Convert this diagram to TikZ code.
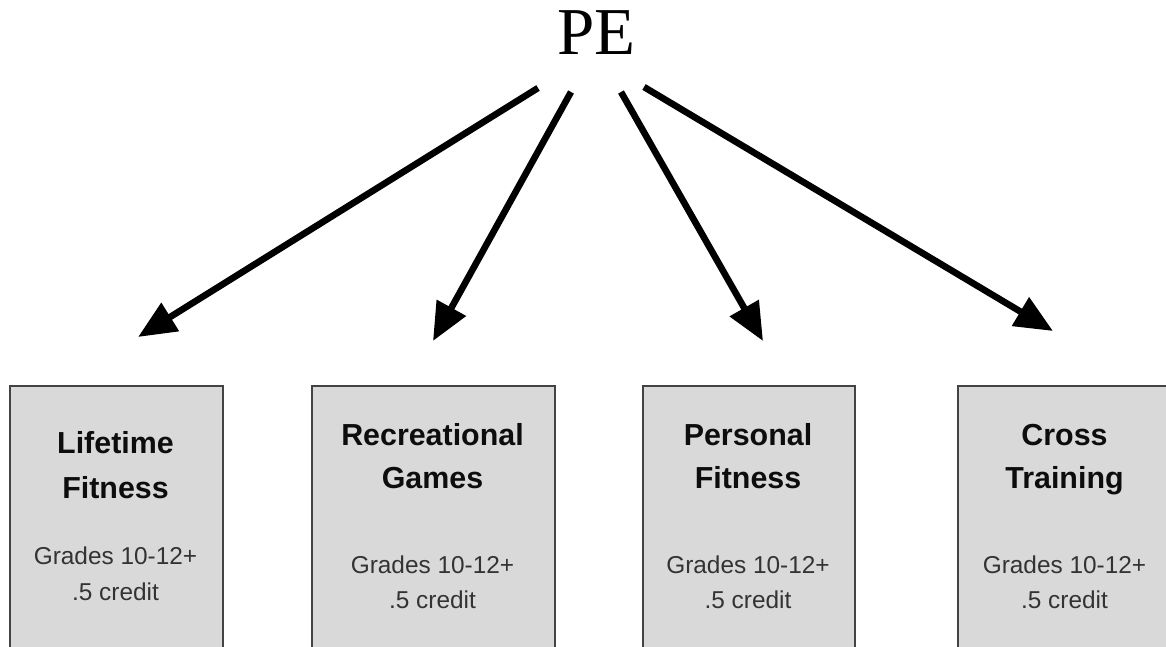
\documentclass[tikz,border=0pt]{standalone}
\usepackage{fontspec}
\setmainfont{Liberation Sans}
\newfontfamily\pefont{Liberation Serif}
\usetikzlibrary{arrows.meta}
\definecolor{boxgray}{HTML}{D9D9D9}
\definecolor{boxline}{HTML}{434343}
\definecolor{infotext}{HTML}{333333}
\tikzset{
  course/.style={draw=boxline, fill=boxgray, line width=1pt, minimum height=160pt,
    anchor=north west, inner sep=0pt},
  title/.style={anchor=base, inner sep=0pt, text=black!95,
    font=\bfseries\fontsize{15.2}{18}\selectfont},
  info/.style={anchor=base, inner sep=0pt, text=infotext,
    font=\fontsize{12.2}{15}\selectfont},
  branch/.style={line width=3.3pt, -{Triangle[length=19pt,width=16pt]}}
}
\begin{document}
\begin{tikzpicture}[x=0.5pt, y=-0.5pt]
          \useasboundingbox (0, 0) rectangle (1166, 647);
          \clip (0, 0) rectangle (1166, 647);
          \node[anchor=base, inner sep=0pt, font=\pefont\fontsize{33.5}{36}\selectfont] (pe) at (596.5, 55) {PE};
          % boxes
          \node[course, minimum width=106.5pt] (lifetime) at (9, 385) {};
          \node[course, minimum width=121.5pt] (recreational) at (311, 385) {};
          \node[course, minimum width=106pt] (personal) at (642, 385) {};
          \node[course, minimum width=107.5pt] (cross) at (957, 385) {};
          % box texts
          \node[title] (lifetime-t1) at (115.5, 453) {Lifetime};
          \node[title] (lifetime-t2) at (115.5, 498) {Fitness};
          \node[info] (lifetime-g) at (115.5, 564) {Grades 10-12+};
          \node[info] (lifetime-c) at (115.5, 600) {.5 credit};
          \node[title] (recreational-t1) at (432.5, 445) {Recreational};
          \node[title] (recreational-t2) at (432.5, 488) {Games};
          \node[info] (recreational-g) at (432.5, 573) {Grades 10-12+};
          \node[info] (recreational-c) at (432.5, 608) {.5 credit};
          \node[title] (personal-t1) at (748, 445) {Personal};
          \node[title] (personal-t2) at (748, 488) {Fitness};
          \node[info] (personal-g) at (748, 573) {Grades 10-12+};
          \node[info] (personal-c) at (748, 608) {.5 credit};
          \node[title] (cross-t1) at (1064.5, 445) {Cross};
          \node[title] (cross-t2) at (1064.5, 488) {Training};
          \node[info] (cross-g) at (1064.5, 573) {Grades 10-12+};
          \node[info] (cross-c) at (1064.5, 608) {.5 credit};
          % arrows
          \coordinate (fromA) at (538, 88);
          \coordinate (fromB) at (571, 92);
          \coordinate (fromC) at (621, 92);
          \coordinate (fromD) at (644, 87);
          \coordinate (toLifetime) at (138, 337);
          \coordinate (toRecreational) at (433, 341);
          \coordinate (toPersonal) at (763, 341);
          \coordinate (toCross) at (1053, 331);
          \draw[branch] (fromA) -- (toLifetime);
          \draw[branch] (fromB) -- (toRecreational);
          \draw[branch] (fromC) -- (toPersonal);
          \draw[branch] (fromD) -- (toCross);
    \end{tikzpicture}
\end{document}
